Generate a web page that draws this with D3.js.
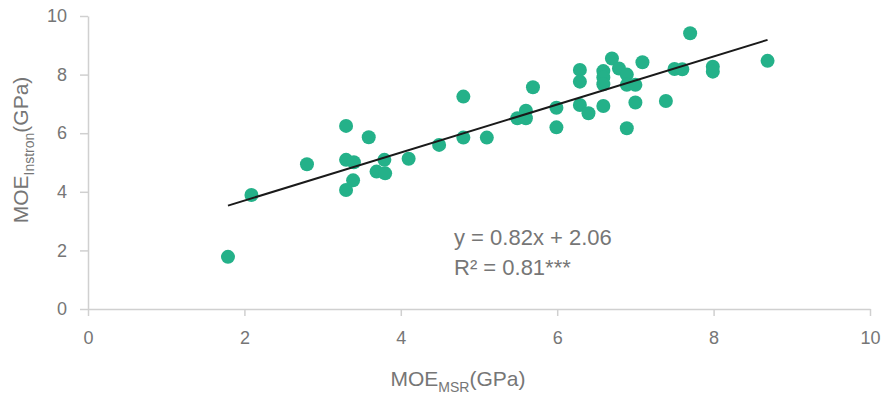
<!DOCTYPE html>
<html>
<head>
<meta charset="utf-8">
<script src="https://cdn.jsdelivr.net/npm/d3@7"></script>
<style>
  body { margin: 0; background: #fff; }
  svg { font-family: "Liberation Sans", Arial, sans-serif; }
</style>
</head>
<body>
<svg id="chart"></svg>
<script>
// MOE measured by MSR (x) vs Instron (y), GPa
const msrValues = [1.79, 2.09, 2.80, 3.30, 3.59, 3.30, 3.40, 3.39, 3.30, 3.79, 3.69, 3.80,
  4.10, 4.49, 4.80, 4.80, 5.10, 5.49, 5.60, 5.60, 5.69, 5.99, 5.99, 6.29, 6.29, 6.29,
  6.40, 6.59, 6.59, 6.59, 6.59, 6.70, 6.79, 6.89, 6.89, 7.00, 7.00, 6.89, 7.09, 7.39,
  7.50, 7.60, 7.70, 7.99, 7.99, 8.69];
const instronValues = [1.78, 3.89, 4.94, 6.25, 5.86, 5.09, 5.01, 4.39, 4.06, 5.09, 4.69, 4.63,
  5.13, 5.60, 7.25, 5.85, 5.85, 6.51, 6.77, 6.51, 7.57, 6.87, 6.20, 8.16, 7.76, 6.96,
  6.68, 8.12, 7.90, 7.67, 6.93, 8.55, 8.21, 8.00, 7.65, 7.65, 7.05, 6.17, 8.42, 7.10,
  8.19, 8.18, 9.41, 8.27, 8.10, 8.47];
const xTicks = [0, 2, 4, 6, 8, 10];
const yTicks = [0, 2, 4, 6, 8, 10];
const slope = 0.82;
const intercept = 2.06;
const equationLines = ["y = 0.82x + 2.06", "R² = 0.81***"];

const width = 883;
const height = 398;
const margin = { top: 16, right: 13, bottom: 89, left: 88 };

const svg = d3.select("#chart").attr("width", width).attr("height", height);

const xScale = d3.scaleLinear().domain([0, 10]).range([margin.left, width - margin.right]);
const yScale = d3.scaleLinear().domain([0, 10]).range([height - margin.bottom, margin.top]);

const axisColor = "#d0d0d0";
const textColor = "#767676";

// axes
const xAxis = d3.axisBottom(xScale).tickValues(xTicks).tickSizeInner(7).tickSizeOuter(0).tickPadding(15);
const yAxis = d3.axisLeft(yScale).tickValues(yTicks).tickSizeInner(8).tickSizeOuter(0).tickPadding(13);

const gx = svg.append("g")
  .attr("transform", `translate(0, ${yScale(0)})`)
  .call(xAxis);
const gy = svg.append("g")
  .attr("transform", `translate(${xScale(0)}, 0)`)
  .call(yAxis);

[gx, gy].forEach(g => {
  g.select(".domain").attr("stroke", axisColor).attr("stroke-width", 1.5);
  g.selectAll(".tick line").attr("stroke", axisColor).attr("stroke-width", 1.5);
  g.selectAll(".tick text")
    .attr("fill", textColor)
    .style("font-size", "18px")
    .style("font-family", "'Liberation Sans', Arial, sans-serif");
});

// points
svg.append("g")
  .selectAll("circle")
  .data(msrValues.map((x, i) => ({ x: x, y: instronValues[i] })))
  .enter()
  .append("circle")
  .attr("cx", d => xScale(d.x))
  .attr("cy", d => yScale(d.y))
  .attr("r", 7)
  .attr("fill", "#24b189");

// trendline over the data range
const xMin = d3.min(msrValues);
const xMax = d3.max(msrValues);
svg.append("line")
  .attr("x1", xScale(xMin))
  .attr("y1", yScale(slope * xMin + intercept))
  .attr("x2", xScale(xMax))
  .attr("y2", yScale(slope * xMax + intercept))
  .attr("stroke", "#1a1a1a")
  .attr("stroke-width", 2);

// equation
svg.append("g")
  .selectAll("text")
  .data(equationLines)
  .enter()
  .append("text")
  .attr("x", 454)
  .attr("y", (d, i) => 245 + i * 30)
  .attr("fill", textColor)
  .style("font-size", "22px")
  .text(d => d);

// x axis title
const xTitle = svg.append("text")
  .attr("x", 458)
  .attr("y", 386)
  .attr("text-anchor", "middle")
  .attr("fill", textColor)
  .style("font-size", "21px");
xTitle.append("tspan").text("MOE");
xTitle.append("tspan").attr("dy", 6).style("font-size", "14px").text("MSR");
xTitle.append("tspan").attr("dy", -6).text("(GPa)");

// y axis title
const yTitle = svg.append("text")
  .attr("transform", "translate(28, 150) rotate(-90)")
  .attr("text-anchor", "middle")
  .attr("fill", textColor)
  .style("font-size", "21px");
yTitle.append("tspan").text("MOE");
yTitle.append("tspan").attr("dy", 6).style("font-size", "14px").text("Instron");
yTitle.append("tspan").attr("dy", -6).text("(GPa)");
</script>
</body>
</html>
